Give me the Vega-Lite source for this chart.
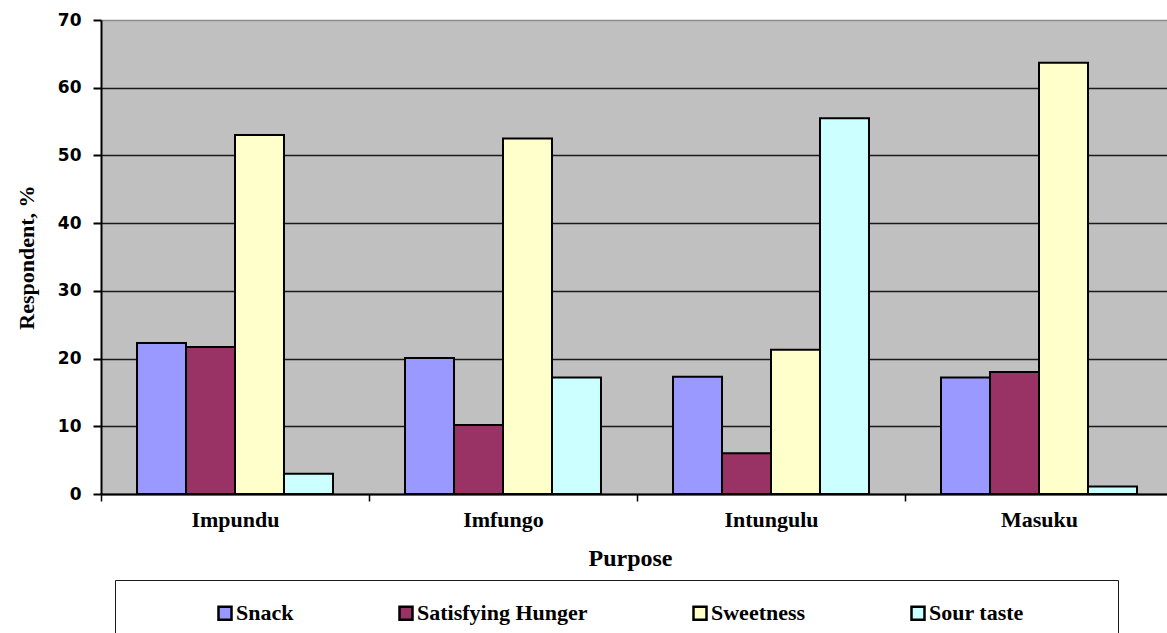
{
  "$schema": "https://vega.github.io/schema/vega-lite/v6.json",
  "autosize": {"type": "none"},
  "padding": {"left": 101, "top": 20, "right": 0, "bottom": 139},
  "width": 1066,
  "height": 474,
  "background": "white",
  "config": {"view": {"fill": "#c0c0c0", "stroke": null}},
  "data": {
    "values": [
      {"site": "Impundu", "purpose": "Snack", "value": 22.3},
      {"site": "Impundu", "purpose": "Satisfying Hunger", "value": 21.7},
      {"site": "Impundu", "purpose": "Sweetness", "value": 53.0},
      {"site": "Impundu", "purpose": "Sour taste", "value": 3.0},
      {"site": "Imfungo", "purpose": "Snack", "value": 20.1},
      {"site": "Imfungo", "purpose": "Satisfying Hunger", "value": 10.2},
      {"site": "Imfungo", "purpose": "Sweetness", "value": 52.5},
      {"site": "Imfungo", "purpose": "Sour taste", "value": 17.2},
      {"site": "Intungulu", "purpose": "Snack", "value": 17.3},
      {"site": "Intungulu", "purpose": "Satisfying Hunger", "value": 6.0},
      {"site": "Intungulu", "purpose": "Sweetness", "value": 21.3},
      {"site": "Intungulu", "purpose": "Sour taste", "value": 55.5},
      {"site": "Masuku", "purpose": "Snack", "value": 17.2},
      {"site": "Masuku", "purpose": "Satisfying Hunger", "value": 18.0},
      {"site": "Masuku", "purpose": "Sweetness", "value": 63.7},
      {"site": "Masuku", "purpose": "Sour taste", "value": 1.1}
    ]
  },
  "mark": {"type": "bar", "stroke": "black", "strokeWidth": 2},
  "encoding": {
    "x": {
      "field": "site",
      "type": "nominal",
      "sort": ["Impundu", "Imfungo", "Intungulu", "Masuku"],
      "scale": {"range": [0, 1072], "paddingInner": 0, "paddingOuter": 0},
      "axis": {
        "title": "Purpose",
        "labelAngle": 0,
        "tickBand": "extent",
        "ticks": true,
        "tickSize": 7,
        "tickColor": "black",
        "tickWidth": 1.5,
        "domainColor": "black",
        "domainWidth": 2,
        "grid": false,
        "labelFont": "Liberation Serif",
        "labelFontWeight": "bold",
        "labelFontSize": 22,
        "labelColor": "black",
        "labelPadding": 8,
        "titleFont": "Liberation Serif",
        "titleFontWeight": "bold",
        "titleFontSize": 24,
        "titleColor": "black",
        "titlePadding": 16,
        "titleX": 529
      }
    },
    "xOffset": {
      "field": "purpose",
      "type": "nominal",
      "sort": ["Snack", "Satisfying Hunger", "Sweetness", "Sour taste"],
      "scale": {"paddingInner": 0, "paddingOuter": 0.735}
    },
    "y": {
      "field": "value",
      "type": "quantitative",
      "scale": {"domain": [0, 70], "nice": false},
      "axis": {
        "title": "Respondent, %",
        "values": [0, 10, 20, 30, 40, 50, 60, 70],
        "grid": true,
        "gridColor": {"condition": {"test": "datum.value >= 70", "value": "#8c8c8c"}, "value": "#1a1a1a"},
        "gridWidth": 1.5,
        "tickSize": 8,
        "tickColor": "black",
        "tickWidth": 2,
        "domainColor": "black",
        "domainWidth": 2,
        "labelFont": "DejaVu Sans",
        "labelFontWeight": "bold",
        "labelFontSize": 17,
        "labelColor": "black",
        "labelPadding": 12,
        "titleFont": "Liberation Serif",
        "titleFontWeight": "bold",
        "titleFontSize": 22,
        "titleColor": "black",
        "titlePadding": 19
      }
    },
    "color": {
      "field": "purpose",
      "type": "nominal",
      "scale": {
        "domain": ["Snack", "Satisfying Hunger", "Sweetness", "Sour taste"],
        "range": ["#9999ff", "#993366", "#ffffcc", "#ccffff"]
      },
      "legend": {
        "orient": "none",
        "legendX": 14,
        "legendY": 560,
        "direction": "horizontal",
        "title": "\u00a0",
        "titleOrient": "left",
        "titlePadding": 77,
        "padding": 22,
        "strokeColor": "#1a1a1a",
        "fillColor": "white",
        "symbolType": "square",
        "symbolSize": 169,
        "symbolStrokeColor": "black",
        "symbolStrokeWidth": 2.5,
        "symbolOpacity": 1,
        "labelFont": "Liberation Serif",
        "labelFontWeight": "bold",
        "labelFontSize": 22,
        "labelColor": "black",
        "labelOffset": 0,
        "labelLimit": 400,
        "columnPadding": 100,
        "labelExpr": "datum.label == 'Sour taste' ? 'Sour taste\u00a0\u00a0\u00a0\u00a0\u00a0\u00a0\u00a0\u00a0\u00a0\u00a0\u00a0\u00a0\u00a0\u200b' : datum.label"
      }
    }
  }
}
